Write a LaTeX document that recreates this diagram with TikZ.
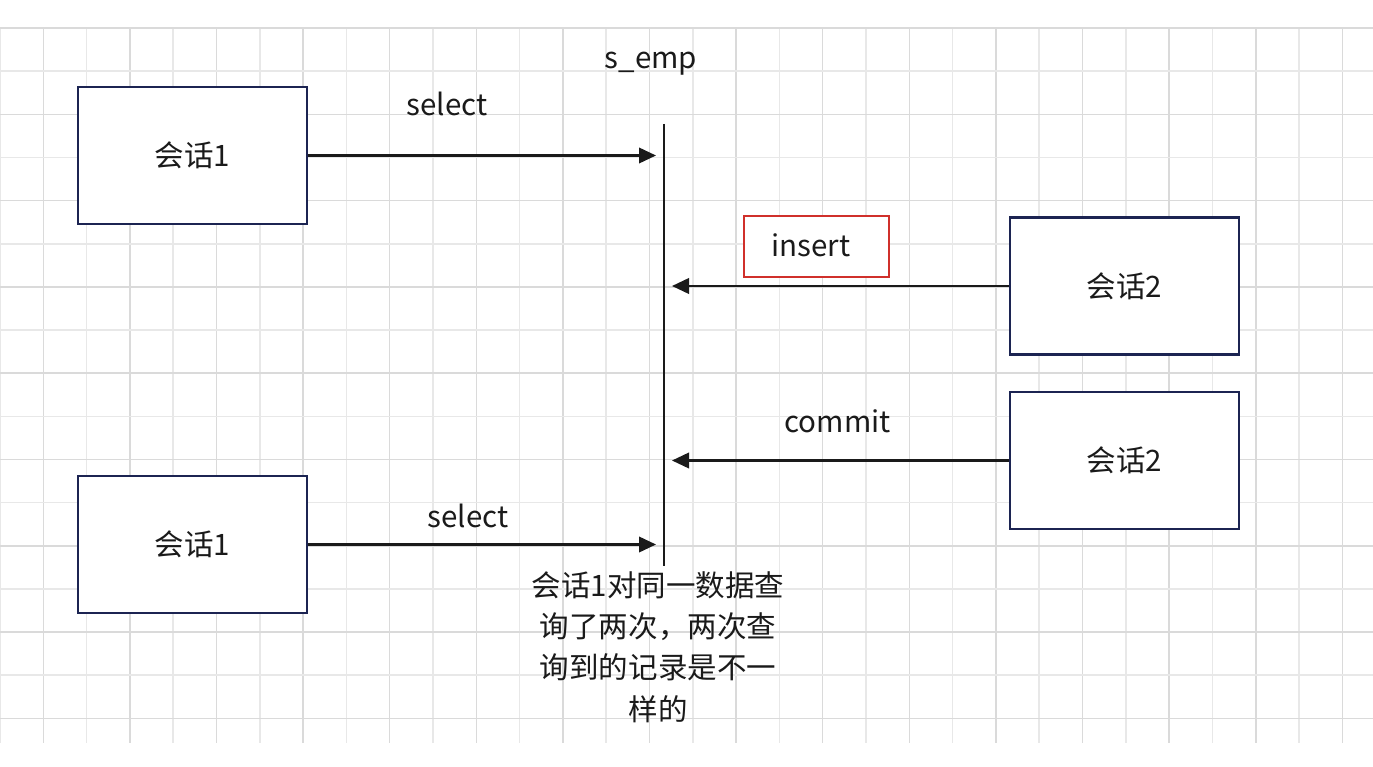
\documentclass[tikz,border=0pt]{standalone}
\usepackage{fontspec}
\newfontfamily\cjk{Noto Sans CJK SC}
\usetikzlibrary{arrows.meta}
\definecolor{boxline}{HTML}{1C2452}
\definecolor{gridmajor}{HTML}{DADADA}
\definecolor{gridminor}{HTML}{E8E8E8}
\definecolor{markred}{HTML}{D0302B}
\definecolor{ink}{HTML}{1A1A1A}
\begin{document}
\begin{tikzpicture}[x=0.02cm,y=-0.02cm,
        every node/.style={font=\cjk\fontsize{16.8}{23.6}\selectfont,text=ink},
        session/.style={rectangle,draw=boxline,line width=1.25pt,fill=white,
                        minimum width=4.58cm,minimum height=2.74cm},
        msg/.style={draw=ink,line width=1.25pt,shorten >=0.16cm,
                    -{Triangle[length=0.34cm,width=0.31cm]}},
        label/.style={anchor=base,inner sep=0pt}]

        % Background and grid
        \useasboundingbox[fill=white] (0,0) rectangle (1373,767);
        \foreach \k in {0,...,31} {
            \ifodd\k \def\gc{gridmajor}\else\def\gc{gridminor}\fi
            \draw[\gc,line width=0.9pt] (\k*43.3,28) -- (\k*43.3,743);
        }
        \foreach \j in {0,...,16} {
            \ifodd\j \def\gc{gridminor}\else\def\gc{gridmajor}\fi
            \draw[\gc,line width=0.9pt] (0,28+\j*43.15) -- (1373,28+\j*43.15);
        }

        % Define sessions
        \node[session] (s1a) at (192.5,155.5) {会话1};
        \node[session] (s1b) at (192.5,544.5) {会话1};
        \node[session] (s2a) at (1124.5,286) {会话2};
        \node[session] (s2b) at (1124.5,460.5) {会话2};

        % Table line
        \node[label] (emp) at (651,69) {s\_emp};
        \coordinate (emptop) at (664,124);
        \coordinate (empbot) at (664,566);
        \draw[ink,line width=1.25pt] (emptop) -- (empbot);

        % Messages
        \draw[msg] (s1a.east) -- (s1a.east -| emptop);
        \draw[msg] (s2a.west) -- (s2a.west -| emptop);
        \draw[msg] (s2b.west) -- (s2b.west -| emptop);
        \draw[msg] (s1b.east) -- (s1b.east -| emptop);

        % Labels
        \node[label] (sel1) at (447,115) {select};
        \node[draw=markred,line width=1.25pt,fill=white,inner sep=0pt,
              minimum width=2.9cm,minimum height=1.22cm] (mark) at (816.5,246.5) {};
        \node[label] (ins) at (811,256) {insert};
        \node[label] (com) at (837.5,432) {commit};
        \node[label] (sel2) at (468,527) {select};

        % Note
        \node[align=center,inner sep=0pt] (note) at (658,647)
            {会话1对同一数据查\\询了两次，两次查\\询到的记录是不一\\样的};
\end{tikzpicture}
\end{document}
